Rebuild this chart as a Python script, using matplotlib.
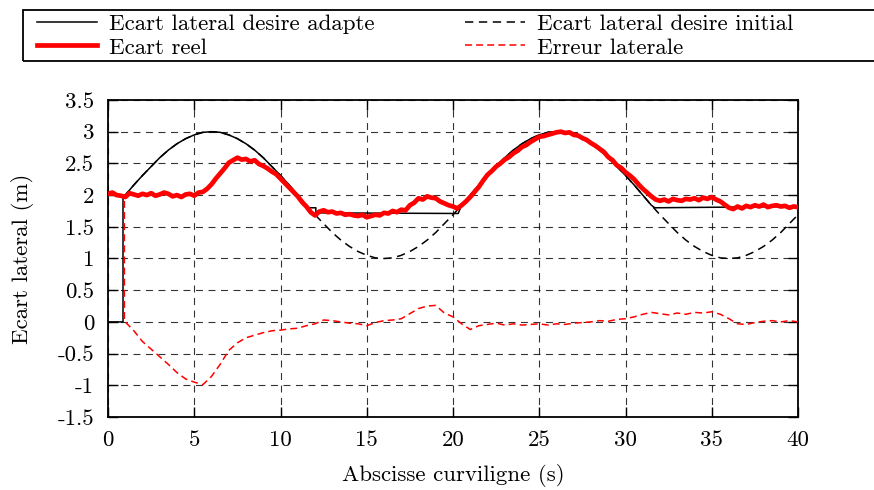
import matplotlib
matplotlib.use('Agg')
import matplotlib.pyplot as plt
from matplotlib.patches import Rectangle

# --- style (gnuplot / LaTeX look) ---
plt.rcParams['font.family'] = ['cmr10', 'DejaVu Serif']
plt.rcParams['axes.unicode_minus'] = False
plt.rcParams['axes.formatter.use_mathtext'] = True
plt.rcParams['lines.scale_dashes'] = False

FS = 16.5

# --- data ---
# consigne adaptee
adapte_x = [0, 0.87, 0.87, 1.0, 1.5, 2.0, 2.5, 3.0, 3.5, 4.0, 4.5, 5.0, 5.5, 6.0,
            6.5, 7.0, 7.5, 8.0, 8.5, 9.0, 9.5, 10.0, 10.5, 11.0, 11.5, 11.65,
            12.05, 12.05, 20.3, 20.5, 21.0, 21.5, 22.0, 22.5, 23.0, 23.5, 24.0,
            24.5, 25.0, 25.5, 26.0, 26.5, 27.0, 27.5, 28.0, 28.5, 29.0, 29.5,
            30.0, 30.5, 31.0, 31.5, 31.7, 40.0]
adapte_y = [0, 0, 2.00, 2.00, 2.16, 2.31, 2.45, 2.59, 2.71, 2.81, 2.89, 2.95, 2.99, 3.00,
            2.99, 2.95, 2.89, 2.81, 2.71, 2.59, 2.45, 2.31, 2.16, 2.00, 1.84, 1.80,
            1.80, 1.72, 1.71, 1.84, 2.00, 2.16, 2.31, 2.45, 2.59, 2.71, 2.81,
            2.89, 2.95, 2.99, 3.00, 2.99, 2.95, 2.89, 2.81, 2.71, 2.59, 2.45,
            2.31, 2.16, 2.00, 1.84, 1.80, 1.82]

# consigne initiale
initial_x = [0, 1.0, 1.5, 2.0, 2.5, 3.0, 3.5, 4.0, 4.5, 5.0, 5.5, 6.0, 6.5, 7.0, 7.5,
             8.0, 8.5, 9.0, 9.5, 10.0, 10.5, 11.0, 11.5, 12.0, 12.5, 13.0, 13.5,
             14.0, 14.5, 15.0, 15.5, 16.0, 16.5, 17.0, 17.5, 18.0, 18.5, 19.0,
             19.5, 20.0, 20.5, 21.0, 21.5, 22.0, 22.5, 23.0, 23.5, 24.0, 24.5,
             25.0, 25.5, 26.0, 26.5, 27.0, 27.5, 28.0, 28.5, 29.0, 29.5, 30.0,
             30.5, 31.0, 31.5, 32.0, 32.5, 33.0, 33.5, 34.0, 34.5, 35.0, 35.5,
             36.0, 36.5, 37.0, 37.5, 38.0, 38.5, 39.0, 39.5, 40.0]
initial_y = [2.00, 2.00, 2.16, 2.31, 2.45, 2.59, 2.71, 2.81, 2.89, 2.95, 2.99, 3.00, 2.99, 2.95, 2.89,
             2.81, 2.71, 2.59, 2.45, 2.31, 2.16, 2.00, 1.84, 1.69, 1.55, 1.41, 1.29,
             1.19, 1.11, 1.05, 1.01, 1.00, 1.01, 1.05, 1.11, 1.19, 1.29, 1.41,
             1.55, 1.69, 1.84, 2.00, 2.16, 2.31, 2.45, 2.59, 2.71, 2.81, 2.89,
             2.95, 2.99, 3.00, 2.99, 2.95, 2.89, 2.81, 2.71, 2.59, 2.45, 2.31,
             2.16, 2.00, 1.84, 1.69, 1.55, 1.41, 1.29, 1.19, 1.11, 1.05, 1.01,
             1.00, 1.01, 1.05, 1.11, 1.19, 1.29, 1.41, 1.55, 1.69]

# ecart reel mesure
reel_x = [0, 0.25, 0.5, 0.75, 1.0, 1.25, 1.5, 1.75, 2.0, 2.25, 2.5, 2.75, 3.0, 3.25,
          3.5, 3.75, 4.0, 4.25, 4.5, 4.75, 5.0, 5.25, 5.5, 5.75, 6.0, 6.25, 6.5,
          6.75, 7.0, 7.25, 7.5, 7.75, 8.0, 8.25, 8.5, 8.75, 9.0, 9.25, 9.5, 9.75,
          10.0, 10.25, 10.5, 10.75, 11.0, 11.25, 11.5, 11.75, 12.0, 12.25, 12.5,
          12.75, 13.0, 13.25, 13.5, 13.75, 14.0, 14.25, 14.5, 14.75, 15.0, 15.25,
          15.5, 15.75, 16.0, 16.25, 16.5, 16.75, 17.0, 17.25, 17.5, 17.75, 18.0,
          18.25, 18.5, 18.75, 19.0, 19.25, 19.5, 19.75, 20.0, 20.25, 20.5, 20.75,
          21.0, 21.25, 21.5, 21.75, 22.0, 22.25, 22.5, 22.75, 23.0, 23.25, 23.5,
          23.75, 24.0, 24.25, 24.5, 24.75, 25.0, 25.25, 25.5, 25.75, 26.0, 26.25,
          26.5, 26.75, 27.0, 27.25, 27.5, 27.75, 28.0, 28.25, 28.5, 28.75, 29.0,
          29.25, 29.5, 29.75, 30.0, 30.25, 30.5, 30.75, 31.0, 31.25, 31.5, 31.75,
          32.0, 32.25, 32.5, 32.75, 33.0, 33.25, 33.5, 33.75, 34.0, 34.25, 34.5,
          34.75, 35.0, 35.25, 35.5, 35.75, 36.0, 36.25, 36.5, 36.75, 37.0, 37.25,
          37.5, 37.75, 38.0, 38.25, 38.5, 38.75, 39.0, 39.25, 39.5, 39.75, 40.0]
reel_y = [2.02, 2.04, 2.00, 1.99, 1.97, 2.03, 2.01, 1.99, 2.02, 2.00, 2.03, 1.99, 2.01, 2.04,
          2.02, 1.98, 2.00, 1.97, 2.01, 2.02, 1.99, 2.04, 2.05, 2.10, 2.17, 2.26, 2.34,
          2.42, 2.51, 2.55, 2.59, 2.56, 2.57, 2.53, 2.55, 2.49, 2.46, 2.42, 2.37, 2.33,
          2.26, 2.19, 2.12, 2.05, 1.98, 1.89, 1.82, 1.73, 1.68, 1.74, 1.76, 1.73,
          1.74, 1.71, 1.72, 1.69, 1.70, 1.68, 1.67, 1.69, 1.65, 1.67, 1.69, 1.68,
          1.72, 1.71, 1.75, 1.73, 1.77, 1.76, 1.84, 1.88, 1.95, 1.93, 1.98, 1.96,
          1.95, 1.90, 1.87, 1.84, 1.82, 1.79, 1.84, 1.90, 1.97, 2.05, 2.13, 2.23,
          2.32, 2.38, 2.45, 2.50, 2.56, 2.60, 2.66, 2.70, 2.76, 2.79, 2.84, 2.88,
          2.92, 2.93, 2.95, 2.97, 2.99, 3.00, 2.98, 2.99, 2.95, 2.94, 2.90, 2.87,
          2.82, 2.78, 2.73, 2.68, 2.60, 2.55, 2.47, 2.43, 2.36, 2.31, 2.25, 2.17,
          2.10, 2.04, 1.98, 1.93, 1.91, 1.93, 1.90, 1.94, 1.92, 1.91, 1.94, 1.93,
          1.95, 1.92, 1.96, 1.94, 1.97, 1.93, 1.90, 1.85, 1.80, 1.78, 1.82, 1.79,
          1.83, 1.81, 1.84, 1.82, 1.85, 1.81, 1.83, 1.84, 1.82, 1.83, 1.80, 1.82,
          1.81]

# erreur laterale
err_x = [0, 0.95, 0.95, 1.0, 1.5, 2.0, 2.5, 3.0, 3.5, 4.0, 4.5, 5.0, 5.5, 6.0,
         6.5, 7.0, 7.5, 8.0, 8.5, 9.0, 9.5, 10.0, 10.5, 11.0, 11.5, 12.0, 12.5,
         13.0, 13.5, 14.0, 14.5, 15.0, 15.5, 16.0, 16.5, 17.0, 17.5, 18.0, 18.5,
         19.0, 19.5, 20.0, 20.5, 21.0, 21.5, 22.0, 22.5, 23.0, 23.5, 24.0, 24.5,
         25.0, 25.5, 26.0, 26.5, 27.0, 27.5, 28.0, 28.5, 29.0, 29.5, 30.0, 30.5,
         31.0, 31.5, 32.0, 32.5, 33.0, 33.5, 34.0, 34.5, 35.0, 35.5, 36.0, 36.5,
         37.0, 37.5, 38.0, 38.5, 39.0, 39.5, 40.0]
err_y = [2.0, 2.0, 0.0, 0.0, -0.14, -0.31, -0.43, -0.55, -0.67, -0.80, -0.90, -0.95, -0.99, -0.86,
         -0.67, -0.45, -0.33, -0.25, -0.21, -0.17, -0.14, -0.13, -0.11, -0.10, -0.06, -0.03, 0.03,
         0.02, 0.00, -0.02, -0.03, -0.06, -0.01, 0.02, 0.03, 0.05, 0.13, 0.21, 0.25,
         0.26, 0.14, 0.08, -0.03, -0.12, -0.06, -0.04, -0.02, -0.05, -0.03, -0.05, -0.04,
         -0.03, -0.05, -0.03, -0.04, -0.02, -0.01, 0.00, 0.02, 0.01, 0.04, 0.05, 0.08,
         0.12, 0.15, 0.13, 0.11, 0.14, 0.12, 0.15, 0.14, 0.16, 0.12, 0.05, -0.03,
         -0.04, -0.01, 0.01, 0.02, 0.00, 0.02, 0.00]

xticks = [0, 5, 10, 15, 20, 25, 30, 35, 40]
yticks = [-1.5, -1, -0.5, 0, 0.5, 1, 1.5, 2, 2.5, 3, 3.5]
ytick_labels = ['-1.5', '-1', '-0.5', '0', '0.5', '1', '1.5', '2', '2.5', '3', '3.5']

# --- figure ---
W, H = 874, 490
fig = plt.figure(figsize=(W / 100, H / 100), dpi=100)
ax = fig.add_axes([108 / W, 1 - 417 / H, (798 - 108) / W, (417 - 100) / H])

l1, = ax.plot(adapte_x, adapte_y, color='black', lw=1.1, zorder=4)
l3, = ax.plot(initial_x, initial_y, color='black', lw=1.1, dashes=(6, 4), zorder=3)
l2, = ax.plot(reel_x, reel_y, color='red', lw=3.4, zorder=5)
l4, = ax.plot(err_x, err_y, color='red', lw=1.1, dashes=(5, 3), zorder=5)

ax.set_xlim(0, 40)
ax.set_ylim(-1.5, 3.5)
ax.set_xticks(xticks)
ax.set_xticklabels([str(t) for t in xticks])
ax.set_yticks(yticks)
ax.set_yticklabels(ytick_labels)
ax.tick_params(direction='in', length=7, width=1, top=True, right=True,
               labelsize=FS, pad=10)
ax.grid(True, color='black', lw=0.8, dashes=(5, 4), alpha=0.8)
ax.set_axisbelow(True)
for s in ax.spines.values():
    s.set_linewidth(1.3)

ax.set_xlabel('Abscisse curviligne (s)', fontsize=FS, labelpad=10)
ax.set_ylabel('Ecart lateral (m)', fontsize=FS, labelpad=17)

# legend box across the top
fig.patches.append(Rectangle((23 / W, 1 - 61 / H), (W + 10 - 23) / W, 51 / H,
                             transform=fig.transFigure, fill=False,
                             edgecolor='black', lw=1.3, clip_on=False))
kw = dict(frameon=False, fontsize=FS, handlelength=2.6, handletextpad=0.55,
          labelspacing=0.15, borderpad=0, borderaxespad=0, loc='upper left')
fig.legend([l1, l2], ['Ecart lateral desire adapte', 'Ecart reel'],
           bbox_to_anchor=(37 / W, 1 - 14 / H), **kw)
fig.legend([l3, l4], ['Ecart lateral desire initial', 'Erreur laterale'],
           bbox_to_anchor=(465 / W, 1 - 14 / H), **kw)

fig.savefig('out.png', dpi=100)
